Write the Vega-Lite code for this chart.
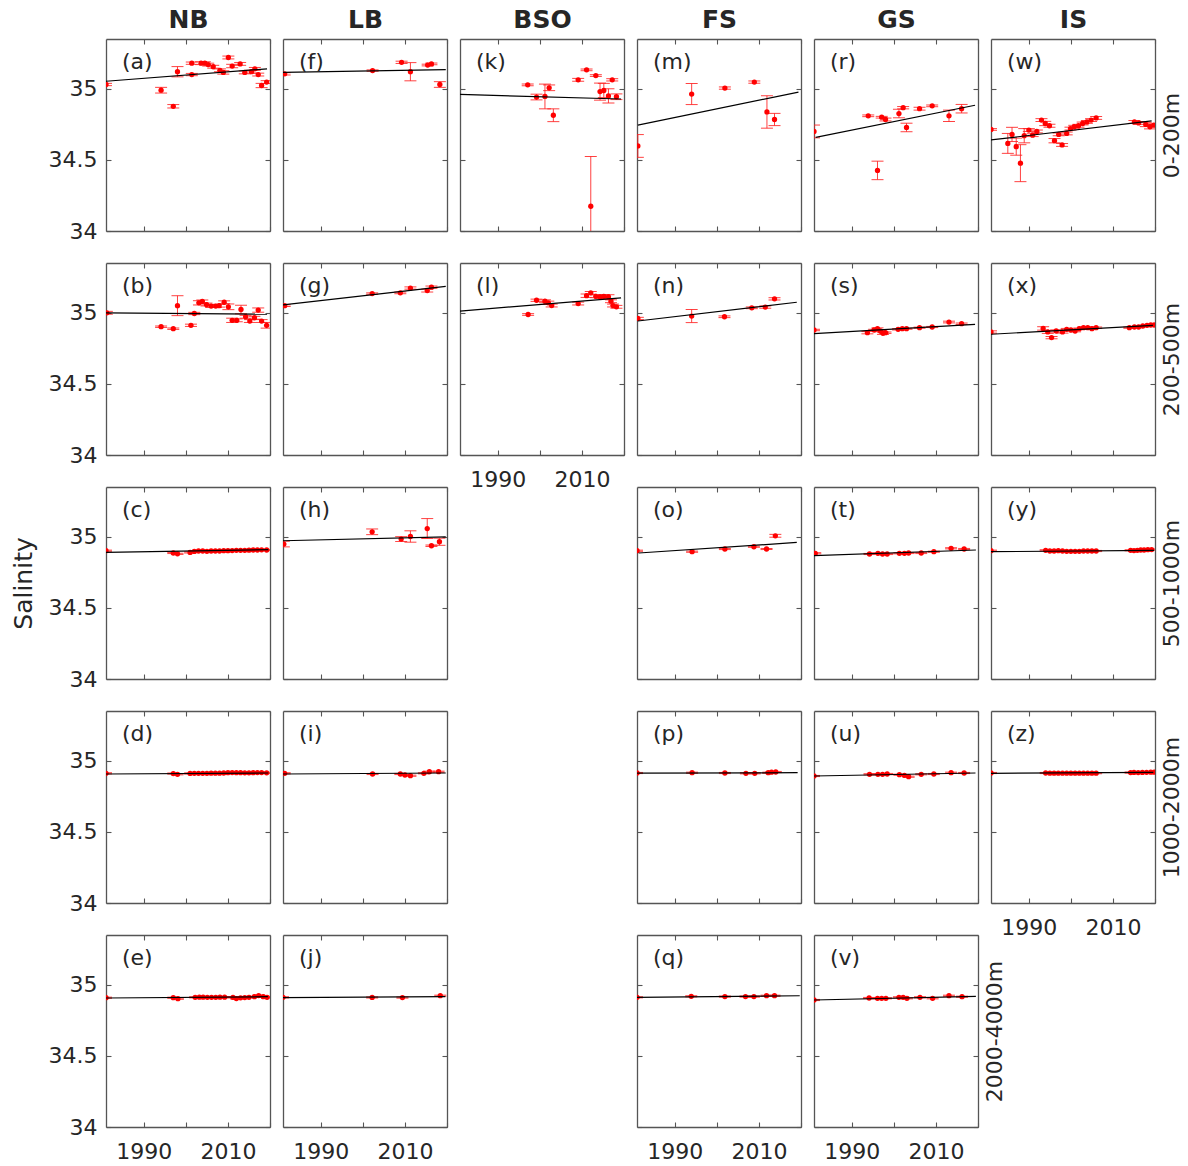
{
  "$schema": "https://vega.github.io/schema/vega-lite/v6.json",
  "padding": {"left": 11, "top": 7, "right": 2, "bottom": 2},
  "datasets": {
    "pts": [
      {"p":"a","year":1981,"s":35.03,"e":0.008},{"p":"a","year":1994.1,"s":34.99,"e":0.02},{"p":"a","year":1997,"s":34.877,"e":0.012},{"p":"a","year":1998,"s":35.12,"e":0.036},{"p":"a","year":2001.4,"s":35.1,"e":0.008},{"p":"a","year":2001.4,"s":35.18,"e":0.008},{"p":"a","year":2003.6,"s":35.18,"e":0.01},{"p":"a","year":2004.5,"s":35.18,"e":0.01},{"p":"a","year":2005.3,"s":35.17,"e":0.01},{"p":"a","year":2006.5,"s":35.155,"e":0.01},{"p":"a","year":2008.1,"s":35.13,"e":0.01},{"p":"a","year":2008.9,"s":35.115,"e":0.012},{"p":"a","year":2010.1,"s":35.22,"e":0.01},{"p":"a","year":2011,"s":35.16,"e":0.012},{"p":"a","year":2012.9,"s":35.175,"e":0.01},{"p":"a","year":2014,"s":35.115,"e":0.01},{"p":"a","year":2015.6,"s":35.12,"e":0.01},{"p":"a","year":2016.4,"s":35.14,"e":0.01},{"p":"a","year":2017.2,"s":35.1,"e":0.01},{"p":"a","year":2018,"s":35.023,"e":0.015},{"p":"a","year":2019.2,"s":35.047,"e":0.01},
      {"p":"b","year":1981.2,"s":35.0,"e":0.01},{"p":"b","year":1994.1,"s":34.902,"e":0.005},{"p":"b","year":1997,"s":34.888,"e":0.005},{"p":"b","year":1998,"s":35.05,"e":0.07},{"p":"b","year":2001.2,"s":34.912,"e":0.008},{"p":"b","year":2002,"s":34.995,"e":0.008},{"p":"b","year":2003.1,"s":35.07,"e":0.015},{"p":"b","year":2003.9,"s":35.08,"e":0.01},{"p":"b","year":2004.9,"s":35.058,"e":0.01},{"p":"b","year":2006,"s":35.047,"e":0.01},{"p":"b","year":2007.1,"s":35.047,"e":0.01},{"p":"b","year":2007.9,"s":35.05,"e":0.01},{"p":"b","year":2009.1,"s":35.074,"e":0.01},{"p":"b","year":2010.1,"s":35.042,"e":0.02},{"p":"b","year":2011,"s":34.947,"e":0.015},{"p":"b","year":2012.1,"s":34.947,"e":0.01},{"p":"b","year":2013.1,"s":35.023,"e":0.03},{"p":"b","year":2014.2,"s":34.972,"e":0.01},{"p":"b","year":2015.2,"s":34.942,"e":0.01},{"p":"b","year":2016.3,"s":34.965,"e":0.01},{"p":"b","year":2017.2,"s":35.019,"e":0.015},{"p":"b","year":2018,"s":34.942,"e":0.01},{"p":"b","year":2019.2,"s":34.912,"e":0.02},
      {"p":"c","year":1981,"s":34.902,"e":0.004},{"p":"c","year":1997,"s":34.886,"e":0.004},{"p":"c","year":1998,"s":34.88,"e":0.004},{"p":"c","year":2001,"s":34.89,"e":0.004},{"p":"c","year":2002,"s":34.897,"e":0.004},{"p":"c","year":2003,"s":34.9,"e":0.004},{"p":"c","year":2004,"s":34.9,"e":0.004},{"p":"c","year":2005,"s":34.898,"e":0.004},{"p":"c","year":2006,"s":34.9,"e":0.004},{"p":"c","year":2007,"s":34.9,"e":0.004},{"p":"c","year":2008,"s":34.9,"e":0.004},{"p":"c","year":2009,"s":34.902,"e":0.004},{"p":"c","year":2010,"s":34.902,"e":0.004},{"p":"c","year":2011,"s":34.903,"e":0.004},{"p":"c","year":2012,"s":34.905,"e":0.004},{"p":"c","year":2013,"s":34.905,"e":0.004},{"p":"c","year":2014,"s":34.905,"e":0.004},{"p":"c","year":2015,"s":34.906,"e":0.004},{"p":"c","year":2016,"s":34.907,"e":0.004},{"p":"c","year":2017,"s":34.907,"e":0.004},{"p":"c","year":2018,"s":34.908,"e":0.004},{"p":"c","year":2019.2,"s":34.907,"e":0.004},
      {"p":"d","year":1981,"s":34.912,"e":0.004},{"p":"d","year":1997,"s":34.91,"e":0.004},{"p":"d","year":1998,"s":34.905,"e":0.004},{"p":"d","year":2001,"s":34.911,"e":0.004},{"p":"d","year":2002,"s":34.912,"e":0.004},{"p":"d","year":2003,"s":34.912,"e":0.004},{"p":"d","year":2004,"s":34.912,"e":0.004},{"p":"d","year":2005,"s":34.912,"e":0.004},{"p":"d","year":2006,"s":34.913,"e":0.004},{"p":"d","year":2007,"s":34.913,"e":0.004},{"p":"d","year":2008,"s":34.913,"e":0.004},{"p":"d","year":2009,"s":34.914,"e":0.004},{"p":"d","year":2010,"s":34.916,"e":0.004},{"p":"d","year":2011,"s":34.917,"e":0.004},{"p":"d","year":2012,"s":34.916,"e":0.004},{"p":"d","year":2013,"s":34.916,"e":0.004},{"p":"d","year":2014,"s":34.915,"e":0.004},{"p":"d","year":2015,"s":34.915,"e":0.004},{"p":"d","year":2016,"s":34.916,"e":0.004},{"p":"d","year":2017,"s":34.917,"e":0.004},{"p":"d","year":2018,"s":34.917,"e":0.004},{"p":"d","year":2019.2,"s":34.915,"e":0.004},
      {"p":"e","year":1981,"s":34.909,"e":0.004},{"p":"e","year":1997,"s":34.909,"e":0.004},{"p":"e","year":1998.1,"s":34.902,"e":0.004},{"p":"e","year":2002.2,"s":34.912,"e":0.004},{"p":"e","year":2003.2,"s":34.913,"e":0.004},{"p":"e","year":2004.1,"s":34.913,"e":0.004},{"p":"e","year":2005.1,"s":34.912,"e":0.004},{"p":"e","year":2006.1,"s":34.912,"e":0.004},{"p":"e","year":2007.1,"s":34.912,"e":0.004},{"p":"e","year":2008.1,"s":34.913,"e":0.004},{"p":"e","year":2009.2,"s":34.913,"e":0.004},{"p":"e","year":2011.2,"s":34.912,"e":0.004},{"p":"e","year":2012,"s":34.903,"e":0.004},{"p":"e","year":2013,"s":34.908,"e":0.004},{"p":"e","year":2014,"s":34.91,"e":0.004},{"p":"e","year":2015,"s":34.912,"e":0.004},{"p":"e","year":2016.3,"s":34.916,"e":0.004},{"p":"e","year":2017.3,"s":34.924,"e":0.004},{"p":"e","year":2018.4,"s":34.916,"e":0.004},{"p":"e","year":2019.3,"s":34.912,"e":0.004},
      {"p":"f","year":1981.4,"s":35.105,"e":0.008},{"p":"f","year":2002.3,"s":35.128,"e":0.005},{"p":"f","year":2009.2,"s":35.186,"e":0.008},{"p":"f","year":2011.3,"s":35.12,"e":0.064},{"p":"f","year":2015.4,"s":35.167,"e":0.006},{"p":"f","year":2016.3,"s":35.175,"e":0.006},{"p":"f","year":2018.3,"s":35.03,"e":0.02},
      {"p":"g","year":1981.4,"s":35.05,"e":0.006},{"p":"g","year":2002.2,"s":35.135,"e":0.005},{"p":"g","year":2008.9,"s":35.14,"e":0.006},{"p":"g","year":2011.3,"s":35.174,"e":0.008},{"p":"g","year":2015.3,"s":35.156,"e":0.01},{"p":"g","year":2016.3,"s":35.18,"e":0.008},
      {"p":"h","year":1981.2,"s":34.949,"e":0.02},{"p":"h","year":2002.2,"s":35.035,"e":0.02},{"p":"h","year":2009.1,"s":34.984,"e":0.017},{"p":"h","year":2011.3,"s":35.002,"e":0.04},{"p":"h","year":2015.3,"s":35.058,"e":0.07},{"p":"h","year":2016.3,"s":34.937,"e":0.005},{"p":"h","year":2018.2,"s":34.965,"e":0.025},
      {"p":"i","year":1981.4,"s":34.912,"e":0.004},{"p":"i","year":2002.3,"s":34.907,"e":0.004},{"p":"i","year":2008.9,"s":34.907,"e":0.004},{"p":"i","year":2010,"s":34.9,"e":0.004},{"p":"i","year":2011.3,"s":34.895,"e":0.004},{"p":"i","year":2014.5,"s":34.912,"e":0.004},{"p":"i","year":2015.8,"s":34.923,"e":0.004},{"p":"i","year":2018,"s":34.923,"e":0.004},
      {"p":"j","year":1981,"s":34.912,"e":0.004},{"p":"j","year":2002.2,"s":34.911,"e":0.004},{"p":"j","year":2009.4,"s":34.91,"e":0.004},{"p":"j","year":2018.4,"s":34.923,"e":0.004},
      {"p":"k","year":1997.1,"s":35.028,"e":0.006},{"p":"k","year":1999.2,"s":34.942,"e":0.02},{"p":"k","year":2001.2,"s":34.946,"e":0.087},{"p":"k","year":2002.2,"s":35.007,"e":0.02},{"p":"k","year":2003.2,"s":34.814,"e":0.045},{"p":"k","year":2009.1,"s":35.063,"e":0.01},{"p":"k","year":2011.1,"s":35.133,"e":0.006},{"p":"k","year":2012.1,"s":34.174,"e":0.35},{"p":"k","year":2013.3,"s":35.093,"e":0.006},{"p":"k","year":2014.3,"s":34.98,"e":0.06},{"p":"k","year":2015.2,"s":34.988,"e":0.05},{"p":"k","year":2016.3,"s":34.95,"e":0.05},{"p":"k","year":2017.2,"s":35.063,"e":0.008},{"p":"k","year":2018.2,"s":34.944,"e":0.02},
      {"p":"l","year":1997.2,"s":34.988,"e":0.006},{"p":"l","year":1999.2,"s":35.088,"e":0.008},{"p":"l","year":2001.2,"s":35.081,"e":0.01},{"p":"l","year":2002,"s":35.07,"e":0.012},{"p":"l","year":2002.8,"s":35.051,"e":0.01},{"p":"l","year":2009.1,"s":35.065,"e":0.01},{"p":"l","year":2011.1,"s":35.12,"e":0.012},{"p":"l","year":2012.1,"s":35.14,"e":0.01},{"p":"l","year":2013.3,"s":35.116,"e":0.01},{"p":"l","year":2014.3,"s":35.112,"e":0.01},{"p":"l","year":2015.2,"s":35.116,"e":0.012},{"p":"l","year":2016.3,"s":35.112,"e":0.015},{"p":"l","year":2016.9,"s":35.081,"e":0.01},{"p":"l","year":2017.4,"s":35.051,"e":0.01},{"p":"l","year":2018.2,"s":35.042,"e":0.01},
      {"p":"m","year":1981.2,"s":34.598,"e":0.08},{"p":"m","year":1994,"s":34.963,"e":0.074},{"p":"m","year":2001.9,"s":35.005,"e":0.008},{"p":"m","year":2008.9,"s":35.047,"e":0.008},{"p":"m","year":2011.9,"s":34.837,"e":0.114},{"p":"m","year":2013.7,"s":34.784,"e":0.043},
      {"p":"n","year":1981.2,"s":34.96,"e":0.008},{"p":"n","year":1994,"s":34.977,"e":0.046},{"p":"n","year":2001.8,"s":34.972,"e":0.006},{"p":"n","year":2008.3,"s":35.035,"e":0.006},{"p":"n","year":2011.5,"s":35.04,"e":0.008},{"p":"n","year":2013.7,"s":35.098,"e":0.008},
      {"p":"o","year":1981,"s":34.902,"e":0.004},{"p":"o","year":1994.1,"s":34.895,"e":0.004},{"p":"o","year":2001.9,"s":34.914,"e":0.004},{"p":"o","year":2008.8,"s":34.93,"e":0.004},{"p":"o","year":2011.8,"s":34.914,"e":0.004},{"p":"o","year":2013.9,"s":35.007,"e":0.01},
      {"p":"p","year":1981,"s":34.914,"e":0.004},{"p":"p","year":1994.1,"s":34.916,"e":0.004},{"p":"p","year":2001.9,"s":34.914,"e":0.004},{"p":"p","year":2006.9,"s":34.912,"e":0.004},{"p":"p","year":2009,"s":34.912,"e":0.004},{"p":"p","year":2012.2,"s":34.916,"e":0.004},{"p":"p","year":2013,"s":34.92,"e":0.004},{"p":"p","year":2014,"s":34.921,"e":0.004},
      {"p":"q","year":1981,"s":34.912,"e":0.004},{"p":"q","year":1993.9,"s":34.919,"e":0.004},{"p":"q","year":2001.9,"s":34.917,"e":0.004},{"p":"q","year":2006.8,"s":34.917,"e":0.004},{"p":"q","year":2008.8,"s":34.917,"e":0.004},{"p":"q","year":2011.8,"s":34.923,"e":0.004},{"p":"q","year":2013.7,"s":34.923,"e":0.004},
      {"p":"r","year":1981,"s":34.7,"e":0.045},{"p":"r","year":1993.9,"s":34.81,"e":0.006},{"p":"r","year":1996.1,"s":34.426,"e":0.065},{"p":"r","year":1997.1,"s":34.8,"e":0.006},{"p":"r","year":1998,"s":34.784,"e":0.01},{"p":"r","year":2001.2,"s":34.826,"e":0.03},{"p":"r","year":2002.2,"s":34.867,"e":0.008},{"p":"r","year":2003,"s":34.728,"e":0.03},{"p":"r","year":2006.1,"s":34.86,"e":0.01},{"p":"r","year":2009.1,"s":34.88,"e":0.006},{"p":"r","year":2013.1,"s":34.81,"e":0.04},{"p":"r","year":2016.1,"s":34.86,"e":0.03},
      {"p":"s","year":1981,"s":34.879,"e":0.005},{"p":"s","year":1993.7,"s":34.86,"e":0.008},{"p":"s","year":1995.3,"s":34.879,"e":0.005},{"p":"s","year":1996.1,"s":34.888,"e":0.006},{"p":"s","year":1996.8,"s":34.872,"e":0.005},{"p":"s","year":1997.4,"s":34.856,"e":0.008},{"p":"s","year":1998,"s":34.86,"e":0.005},{"p":"s","year":2001,"s":34.884,"e":0.005},{"p":"s","year":2002,"s":34.888,"e":0.004},{"p":"s","year":2003,"s":34.888,"e":0.004},{"p":"s","year":2006.1,"s":34.895,"e":0.004},{"p":"s","year":2009.1,"s":34.9,"e":0.004},{"p":"s","year":2013.1,"s":34.935,"e":0.006},{"p":"s","year":2016.1,"s":34.923,"e":0.005},
      {"p":"t","year":1981.3,"s":34.884,"e":0.004},{"p":"t","year":1994.2,"s":34.879,"e":0.004},{"p":"t","year":1996.2,"s":34.884,"e":0.004},{"p":"t","year":1997.3,"s":34.879,"e":0.004},{"p":"t","year":1998.4,"s":34.879,"e":0.004},{"p":"t","year":2001.3,"s":34.884,"e":0.004},{"p":"t","year":2002.5,"s":34.884,"e":0.004},{"p":"t","year":2003.5,"s":34.886,"e":0.004},{"p":"t","year":2006.5,"s":34.886,"e":0.004},{"p":"t","year":2009.5,"s":34.895,"e":0.004},{"p":"t","year":2013.6,"s":34.919,"e":0.004},{"p":"t","year":2016.7,"s":34.914,"e":0.004},
      {"p":"u","year":1981,"s":34.893,"e":0.004},{"p":"u","year":1994.2,"s":34.905,"e":0.004},{"p":"u","year":1996.2,"s":34.905,"e":0.004},{"p":"u","year":1997.3,"s":34.905,"e":0.004},{"p":"u","year":1998.4,"s":34.907,"e":0.004},{"p":"u","year":2001.3,"s":34.902,"e":0.004},{"p":"u","year":2002.5,"s":34.898,"e":0.004},{"p":"u","year":2003.5,"s":34.888,"e":0.004},{"p":"u","year":2006.5,"s":34.905,"e":0.004},{"p":"u","year":2009.5,"s":34.907,"e":0.004},{"p":"u","year":2013.6,"s":34.916,"e":0.004},{"p":"u","year":2016.7,"s":34.914,"e":0.004},
      {"p":"v","year":1981,"s":34.893,"e":0.004},{"p":"v","year":1994.1,"s":34.907,"e":0.004},{"p":"v","year":1996.1,"s":34.905,"e":0.004},{"p":"v","year":1997.1,"s":34.905,"e":0.004},{"p":"v","year":1998.1,"s":34.905,"e":0.004},{"p":"v","year":2001.2,"s":34.912,"e":0.004},{"p":"v","year":2002.2,"s":34.912,"e":0.004},{"p":"v","year":2003.1,"s":34.905,"e":0.004},{"p":"v","year":2006.2,"s":34.912,"e":0.004},{"p":"v","year":2009.2,"s":34.905,"e":0.004},{"p":"v","year":2013.1,"s":34.923,"e":0.004},{"p":"v","year":2016.2,"s":34.916,"e":0.004},
      {"p":"w","year":1981,"s":34.714,"e":0.006},{"p":"w","year":1985,"s":34.616,"e":0.07},{"p":"w","year":1986,"s":34.679,"e":0.05},{"p":"w","year":1987,"s":34.593,"e":0.06},{"p":"w","year":1988,"s":34.477,"e":0.13},{"p":"w","year":1988.9,"s":34.67,"e":0.05},{"p":"w","year":1990,"s":34.71,"e":0.01},{"p":"w","year":1990.9,"s":34.674,"e":0.01},{"p":"w","year":1991.9,"s":34.7,"e":0.01},{"p":"w","year":1993,"s":34.78,"e":0.01},{"p":"w","year":1993.9,"s":34.756,"e":0.015},{"p":"w","year":1994.9,"s":34.74,"e":0.01},{"p":"w","year":1996.1,"s":34.635,"e":0.015},{"p":"w","year":1997.1,"s":34.679,"e":0.01},{"p":"w","year":1997.9,"s":34.605,"e":0.01},{"p":"w","year":1999,"s":34.686,"e":0.01},{"p":"w","year":1999.9,"s":34.72,"e":0.01},{"p":"w","year":2000.8,"s":34.733,"e":0.01},{"p":"w","year":2001.8,"s":34.74,"e":0.01},{"p":"w","year":2002.8,"s":34.756,"e":0.01},{"p":"w","year":2003.8,"s":34.767,"e":0.01},{"p":"w","year":2004.8,"s":34.78,"e":0.01},{"p":"w","year":2006,"s":34.795,"e":0.01},{"p":"w","year":2015.1,"s":34.767,"e":0.01},{"p":"w","year":2016.1,"s":34.76,"e":0.01},{"p":"w","year":2017.8,"s":34.749,"e":0.015},{"p":"w","year":2018.8,"s":34.733,"e":0.015},{"p":"w","year":2019.7,"s":34.744,"e":0.01},
      {"p":"x","year":1981,"s":34.865,"e":0.008},{"p":"x","year":1993.4,"s":34.89,"e":0.012},{"p":"x","year":1994.5,"s":34.865,"e":0.01},{"p":"x","year":1995.4,"s":34.826,"e":0.008},{"p":"x","year":1996.5,"s":34.872,"e":0.008},{"p":"x","year":1998,"s":34.865,"e":0.008},{"p":"x","year":1999,"s":34.884,"e":0.006},{"p":"x","year":2000,"s":34.879,"e":0.006},{"p":"x","year":2001,"s":34.872,"e":0.006},{"p":"x","year":2002,"s":34.888,"e":0.005},{"p":"x","year":2003,"s":34.895,"e":0.005},{"p":"x","year":2004,"s":34.895,"e":0.005},{"p":"x","year":2005,"s":34.888,"e":0.005},{"p":"x","year":2006,"s":34.895,"e":0.005},{"p":"x","year":2013.9,"s":34.895,"e":0.004},{"p":"x","year":2015.1,"s":34.9,"e":0.004},{"p":"x","year":2016.1,"s":34.9,"e":0.004},{"p":"x","year":2017.1,"s":34.907,"e":0.004},{"p":"x","year":2018.1,"s":34.912,"e":0.004},{"p":"x","year":2019,"s":34.914,"e":0.004},{"p":"x","year":2019.8,"s":34.914,"e":0.004},
      {"p":"y","year":1981,"s":34.902,"e":0.004},{"p":"y","year":1994,"s":34.905,"e":0.004},{"p":"y","year":1995,"s":34.9,"e":0.004},{"p":"y","year":1996,"s":34.9,"e":0.004},{"p":"y","year":1997,"s":34.902,"e":0.004},{"p":"y","year":1998,"s":34.9,"e":0.004},{"p":"y","year":1999,"s":34.898,"e":0.004},{"p":"y","year":2000,"s":34.898,"e":0.004},{"p":"y","year":2001,"s":34.898,"e":0.004},{"p":"y","year":2002,"s":34.898,"e":0.004},{"p":"y","year":2003,"s":34.9,"e":0.004},{"p":"y","year":2004,"s":34.9,"e":0.004},{"p":"y","year":2005,"s":34.9,"e":0.004},{"p":"y","year":2006,"s":34.9,"e":0.004},{"p":"y","year":2014.2,"s":34.905,"e":0.004},{"p":"y","year":2015,"s":34.903,"e":0.004},{"p":"y","year":2015.8,"s":34.905,"e":0.004},{"p":"y","year":2016.6,"s":34.907,"e":0.004},{"p":"y","year":2017.4,"s":34.907,"e":0.004},{"p":"y","year":2018.3,"s":34.909,"e":0.004},{"p":"y","year":2019.2,"s":34.91,"e":0.004},
      {"p":"z","year":1981,"s":34.914,"e":0.004},{"p":"z","year":1994,"s":34.914,"e":0.004},{"p":"z","year":1995,"s":34.913,"e":0.004},{"p":"z","year":1996,"s":34.913,"e":0.004},{"p":"z","year":1997,"s":34.913,"e":0.004},{"p":"z","year":1998,"s":34.913,"e":0.004},{"p":"z","year":1999,"s":34.913,"e":0.004},{"p":"z","year":2000,"s":34.913,"e":0.004},{"p":"z","year":2001,"s":34.913,"e":0.004},{"p":"z","year":2002,"s":34.913,"e":0.004},{"p":"z","year":2003,"s":34.913,"e":0.004},{"p":"z","year":2004,"s":34.913,"e":0.004},{"p":"z","year":2005,"s":34.913,"e":0.004},{"p":"z","year":2006,"s":34.913,"e":0.004},{"p":"z","year":2014.2,"s":34.917,"e":0.004},{"p":"z","year":2015,"s":34.918,"e":0.004},{"p":"z","year":2016,"s":34.917,"e":0.004},{"p":"z","year":2017,"s":34.918,"e":0.004},{"p":"z","year":2018,"s":34.919,"e":0.004},{"p":"z","year":2019,"s":34.92,"e":0.004},{"p":"z","year":2019.8,"s":34.92,"e":0.004}
    ],
    "trend": [
      {"p":"a","year":1981,"s":35.053},{"p":"a","year":2019.3,"s":35.14},
      {"p":"b","year":1981,"s":35.0},{"p":"b","year":2019.3,"s":34.99},
      {"p":"c","year":1981,"s":34.891},{"p":"c","year":2019.6,"s":34.909},
      {"p":"d","year":1981,"s":34.907},{"p":"d","year":2019.6,"s":34.914},
      {"p":"e","year":1981,"s":34.907},{"p":"e","year":2019.5,"s":34.916},
      {"p":"f","year":1981,"s":35.116},{"p":"f","year":2019.7,"s":35.135},
      {"p":"g","year":1981,"s":35.056},{"p":"g","year":2019.7,"s":35.186},
      {"p":"h","year":1981,"s":34.972},{"p":"h","year":2019.7,"s":35.0},
      {"p":"i","year":1981,"s":34.907},{"p":"i","year":2019.7,"s":34.914},
      {"p":"j","year":1981,"s":34.91},{"p":"j","year":2019.6,"s":34.917},
      {"p":"k","year":1981,"s":34.96},{"p":"k","year":2019.3,"s":34.928},
      {"p":"l","year":1981,"s":35.012},{"p":"l","year":2019.3,"s":35.105},
      {"p":"m","year":1981.2,"s":34.744},{"p":"m","year":2019.4,"s":34.977},
      {"p":"n","year":1981.2,"s":34.942},{"p":"n","year":2019,"s":35.074},
      {"p":"o","year":1981.4,"s":34.886},{"p":"o","year":2019,"s":34.96},
      {"p":"p","year":1981,"s":34.913},{"p":"p","year":2019.2,"s":34.916},
      {"p":"q","year":1981,"s":34.912},{"p":"q","year":2019.7,"s":34.923},
      {"p":"r","year":1981.4,"s":34.658},{"p":"r","year":2019.3,"s":34.884},
      {"p":"s","year":1981,"s":34.853},{"p":"s","year":2019.3,"s":34.919},
      {"p":"t","year":1981,"s":34.867},{"p":"t","year":2019.5,"s":34.907},
      {"p":"u","year":1981,"s":34.893},{"p":"u","year":2019.4,"s":34.914},
      {"p":"v","year":1981,"s":34.893},{"p":"v","year":2019.5,"s":34.919},
      {"p":"w","year":1981,"s":34.64},{"p":"w","year":2019.2,"s":34.774},
      {"p":"x","year":1981,"s":34.849},{"p":"x","year":2019.5,"s":34.912},
      {"p":"y","year":1981,"s":34.895},{"p":"y","year":2019.8,"s":34.905},
      {"p":"z","year":1981,"s":34.912},{"p":"z","year":2019.6,"s":34.918}
    ]
  },
  "columns": 6,
  "bounds": "flush",
  "spacing": {"row": 32, "column": 13},
  "concat": [
    {"width":164,"height":192,"resolve":{"axis":{"x":"independent","y":"independent"}},"layer":[
      {"data":{"name":"pts"},"transform":[{"filter":"datum.p=='a'"}],"mark":{"type":"errorbar","color":"#ff2020","opacity":0.85,"ticks":{"size":12},"clip":true},"encoding":{"x":{"field":"year","type":"quantitative","scale":{"domain":[1981,2020],"nice":false,"zero":false},"axis":null},"y":{"field":"s","type":"quantitative","scale":{"domain":[34,35.35],"nice":false,"zero":false},"axis":null},"yError":{"field":"e"}}},
      {"data":{"name":"pts"},"transform":[{"filter":"datum.p=='a'"}],"mark":{"type":"circle","color":"red","size":28,"opacity":1,"clip":true},"encoding":{"x":{"field":"year","type":"quantitative","axis":{"orient":"bottom","labels":false,"title":null}},"y":{"field":"s","type":"quantitative","axis":{"orient":"left","labels":true,"title":null}}}},
      {"data":{"name":"trend"},"transform":[{"filter":"datum.p=='a'"}],"mark":{"type":"line","color":"black","strokeWidth":1.2,"clip":true},"encoding":{"x":{"field":"year","type":"quantitative","axis":{"orient":"top","labels":false,"title":"NB"}},"y":{"field":"s","type":"quantitative","axis":{"orient":"right","labels":false,"title":null}}}},
      {"data":{"values":[{"t":"(a)"}]},"mark":{"type":"text","align":"left","fontSize":22,"color":"#262626"},"encoding":{"x":{"datum":1984.8,"type":"quantitative","axis":null},"y":{"datum":35.19,"type":"quantitative","axis":null},"text":{"field":"t"}}}]},
    {"width":164,"height":192,"resolve":{"axis":{"x":"independent","y":"independent"}},"layer":[
      {"data":{"name":"pts"},"transform":[{"filter":"datum.p=='f'"}],"mark":{"type":"errorbar","color":"#ff2020","opacity":0.85,"ticks":{"size":12},"clip":true},"encoding":{"x":{"field":"year","type":"quantitative","scale":{"domain":[1981,2020],"nice":false,"zero":false},"axis":null},"y":{"field":"s","type":"quantitative","scale":{"domain":[34,35.35],"nice":false,"zero":false},"axis":null},"yError":{"field":"e"}}},
      {"data":{"name":"pts"},"transform":[{"filter":"datum.p=='f'"}],"mark":{"type":"circle","color":"red","size":28,"opacity":1,"clip":true},"encoding":{"x":{"field":"year","type":"quantitative","axis":{"orient":"bottom","labels":false,"title":null}},"y":{"field":"s","type":"quantitative","axis":{"orient":"left","labels":false,"title":null}}}},
      {"data":{"name":"trend"},"transform":[{"filter":"datum.p=='f'"}],"mark":{"type":"line","color":"black","strokeWidth":1.2,"clip":true},"encoding":{"x":{"field":"year","type":"quantitative","axis":{"orient":"top","labels":false,"title":"LB"}},"y":{"field":"s","type":"quantitative","axis":{"orient":"right","labels":false,"title":null}}}},
      {"data":{"values":[{"t":"(f)"}]},"mark":{"type":"text","align":"left","fontSize":22,"color":"#262626"},"encoding":{"x":{"datum":1984.8,"type":"quantitative","axis":null},"y":{"datum":35.19,"type":"quantitative","axis":null},"text":{"field":"t"}}}]},
    {"width":164,"height":192,"resolve":{"axis":{"x":"independent","y":"independent"}},"layer":[
      {"data":{"name":"pts"},"transform":[{"filter":"datum.p=='k'"}],"mark":{"type":"errorbar","color":"#ff2020","opacity":0.85,"ticks":{"size":12},"clip":true},"encoding":{"x":{"field":"year","type":"quantitative","scale":{"domain":[1981,2020],"nice":false,"zero":false},"axis":null},"y":{"field":"s","type":"quantitative","scale":{"domain":[34,35.35],"nice":false,"zero":false},"axis":null},"yError":{"field":"e"}}},
      {"data":{"name":"pts"},"transform":[{"filter":"datum.p=='k'"}],"mark":{"type":"circle","color":"red","size":28,"opacity":1,"clip":true},"encoding":{"x":{"field":"year","type":"quantitative","axis":{"orient":"bottom","labels":false,"title":null}},"y":{"field":"s","type":"quantitative","axis":{"orient":"left","labels":false,"title":null}}}},
      {"data":{"name":"trend"},"transform":[{"filter":"datum.p=='k'"}],"mark":{"type":"line","color":"black","strokeWidth":1.2,"clip":true},"encoding":{"x":{"field":"year","type":"quantitative","axis":{"orient":"top","labels":false,"title":"BSO"}},"y":{"field":"s","type":"quantitative","axis":{"orient":"right","labels":false,"title":null}}}},
      {"data":{"values":[{"t":"(k)"}]},"mark":{"type":"text","align":"left","fontSize":22,"color":"#262626"},"encoding":{"x":{"datum":1984.8,"type":"quantitative","axis":null},"y":{"datum":35.19,"type":"quantitative","axis":null},"text":{"field":"t"}}}]},
    {"width":164,"height":192,"resolve":{"axis":{"x":"independent","y":"independent"}},"layer":[
      {"data":{"name":"pts"},"transform":[{"filter":"datum.p=='m'"}],"mark":{"type":"errorbar","color":"#ff2020","opacity":0.85,"ticks":{"size":12},"clip":true},"encoding":{"x":{"field":"year","type":"quantitative","scale":{"domain":[1981,2020],"nice":false,"zero":false},"axis":null},"y":{"field":"s","type":"quantitative","scale":{"domain":[34,35.35],"nice":false,"zero":false},"axis":null},"yError":{"field":"e"}}},
      {"data":{"name":"pts"},"transform":[{"filter":"datum.p=='m'"}],"mark":{"type":"circle","color":"red","size":28,"opacity":1,"clip":true},"encoding":{"x":{"field":"year","type":"quantitative","axis":{"orient":"bottom","labels":false,"title":null}},"y":{"field":"s","type":"quantitative","axis":{"orient":"left","labels":false,"title":null}}}},
      {"data":{"name":"trend"},"transform":[{"filter":"datum.p=='m'"}],"mark":{"type":"line","color":"black","strokeWidth":1.2,"clip":true},"encoding":{"x":{"field":"year","type":"quantitative","axis":{"orient":"top","labels":false,"title":"FS"}},"y":{"field":"s","type":"quantitative","axis":{"orient":"right","labels":false,"title":null}}}},
      {"data":{"values":[{"t":"(m)"}]},"mark":{"type":"text","align":"left","fontSize":22,"color":"#262626"},"encoding":{"x":{"datum":1984.8,"type":"quantitative","axis":null},"y":{"datum":35.19,"type":"quantitative","axis":null},"text":{"field":"t"}}}]},
    {"width":164,"height":192,"resolve":{"axis":{"x":"independent","y":"independent"}},"layer":[
      {"data":{"name":"pts"},"transform":[{"filter":"datum.p=='r'"}],"mark":{"type":"errorbar","color":"#ff2020","opacity":0.85,"ticks":{"size":12},"clip":true},"encoding":{"x":{"field":"year","type":"quantitative","scale":{"domain":[1981,2020],"nice":false,"zero":false},"axis":null},"y":{"field":"s","type":"quantitative","scale":{"domain":[34,35.35],"nice":false,"zero":false},"axis":null},"yError":{"field":"e"}}},
      {"data":{"name":"pts"},"transform":[{"filter":"datum.p=='r'"}],"mark":{"type":"circle","color":"red","size":28,"opacity":1,"clip":true},"encoding":{"x":{"field":"year","type":"quantitative","axis":{"orient":"bottom","labels":false,"title":null}},"y":{"field":"s","type":"quantitative","axis":{"orient":"left","labels":false,"title":null}}}},
      {"data":{"name":"trend"},"transform":[{"filter":"datum.p=='r'"}],"mark":{"type":"line","color":"black","strokeWidth":1.2,"clip":true},"encoding":{"x":{"field":"year","type":"quantitative","axis":{"orient":"top","labels":false,"title":"GS"}},"y":{"field":"s","type":"quantitative","axis":{"orient":"right","labels":false,"title":null}}}},
      {"data":{"values":[{"t":"(r)"}]},"mark":{"type":"text","align":"left","fontSize":22,"color":"#262626"},"encoding":{"x":{"datum":1984.8,"type":"quantitative","axis":null},"y":{"datum":35.19,"type":"quantitative","axis":null},"text":{"field":"t"}}}]},
    {"width":164,"height":192,"resolve":{"axis":{"x":"independent","y":"independent"}},"layer":[
      {"data":{"name":"pts"},"transform":[{"filter":"datum.p=='w'"}],"mark":{"type":"errorbar","color":"#ff2020","opacity":0.85,"ticks":{"size":12},"clip":true},"encoding":{"x":{"field":"year","type":"quantitative","scale":{"domain":[1981,2020],"nice":false,"zero":false},"axis":null},"y":{"field":"s","type":"quantitative","scale":{"domain":[34,35.35],"nice":false,"zero":false},"axis":null},"yError":{"field":"e"}}},
      {"data":{"name":"pts"},"transform":[{"filter":"datum.p=='w'"}],"mark":{"type":"circle","color":"red","size":28,"opacity":1,"clip":true},"encoding":{"x":{"field":"year","type":"quantitative","axis":{"orient":"bottom","labels":false,"title":null}},"y":{"field":"s","type":"quantitative","axis":{"orient":"left","labels":false,"title":null}}}},
      {"data":{"name":"trend"},"transform":[{"filter":"datum.p=='w'"}],"mark":{"type":"line","color":"black","strokeWidth":1.2,"clip":true},"encoding":{"x":{"field":"year","type":"quantitative","axis":{"orient":"top","labels":false,"title":"IS"}},"y":{"field":"s","type":"quantitative","axis":{"orient":"right","labels":false,"title":"0-200m"}}}},
      {"data":{"values":[{"t":"(w)"}]},"mark":{"type":"text","align":"left","fontSize":22,"color":"#262626"},"encoding":{"x":{"datum":1984.8,"type":"quantitative","axis":null},"y":{"datum":35.19,"type":"quantitative","axis":null},"text":{"field":"t"}}}]},

    {"width":164,"height":192,"resolve":{"axis":{"x":"independent","y":"independent"}},"layer":[
      {"data":{"name":"pts"},"transform":[{"filter":"datum.p=='b'"}],"mark":{"type":"errorbar","color":"#ff2020","opacity":0.85,"ticks":{"size":12},"clip":true},"encoding":{"x":{"field":"year","type":"quantitative","scale":{"domain":[1981,2020],"nice":false,"zero":false},"axis":null},"y":{"field":"s","type":"quantitative","scale":{"domain":[34,35.35],"nice":false,"zero":false},"axis":null},"yError":{"field":"e"}}},
      {"data":{"name":"pts"},"transform":[{"filter":"datum.p=='b'"}],"mark":{"type":"circle","color":"red","size":28,"opacity":1,"clip":true},"encoding":{"x":{"field":"year","type":"quantitative","axis":{"orient":"bottom","labels":false,"title":null}},"y":{"field":"s","type":"quantitative","axis":{"orient":"left","labels":true,"title":null}}}},
      {"data":{"name":"trend"},"transform":[{"filter":"datum.p=='b'"}],"mark":{"type":"line","color":"black","strokeWidth":1.2,"clip":true},"encoding":{"x":{"field":"year","type":"quantitative","axis":{"orient":"top","labels":false,"title":null}},"y":{"field":"s","type":"quantitative","axis":{"orient":"right","labels":false,"title":null}}}},
      {"data":{"values":[{"t":"(b)"}]},"mark":{"type":"text","align":"left","fontSize":22,"color":"#262626"},"encoding":{"x":{"datum":1984.8,"type":"quantitative","axis":null},"y":{"datum":35.19,"type":"quantitative","axis":null},"text":{"field":"t"}}}]},
    {"width":164,"height":192,"resolve":{"axis":{"x":"independent","y":"independent"}},"layer":[
      {"data":{"name":"pts"},"transform":[{"filter":"datum.p=='g'"}],"mark":{"type":"errorbar","color":"#ff2020","opacity":0.85,"ticks":{"size":12},"clip":true},"encoding":{"x":{"field":"year","type":"quantitative","scale":{"domain":[1981,2020],"nice":false,"zero":false},"axis":null},"y":{"field":"s","type":"quantitative","scale":{"domain":[34,35.35],"nice":false,"zero":false},"axis":null},"yError":{"field":"e"}}},
      {"data":{"name":"pts"},"transform":[{"filter":"datum.p=='g'"}],"mark":{"type":"circle","color":"red","size":28,"opacity":1,"clip":true},"encoding":{"x":{"field":"year","type":"quantitative","axis":{"orient":"bottom","labels":false,"title":null}},"y":{"field":"s","type":"quantitative","axis":{"orient":"left","labels":false,"title":null}}}},
      {"data":{"name":"trend"},"transform":[{"filter":"datum.p=='g'"}],"mark":{"type":"line","color":"black","strokeWidth":1.2,"clip":true},"encoding":{"x":{"field":"year","type":"quantitative","axis":{"orient":"top","labels":false,"title":null}},"y":{"field":"s","type":"quantitative","axis":{"orient":"right","labels":false,"title":null}}}},
      {"data":{"values":[{"t":"(g)"}]},"mark":{"type":"text","align":"left","fontSize":22,"color":"#262626"},"encoding":{"x":{"datum":1984.8,"type":"quantitative","axis":null},"y":{"datum":35.19,"type":"quantitative","axis":null},"text":{"field":"t"}}}]},
    {"width":164,"height":192,"resolve":{"axis":{"x":"independent","y":"independent"}},"layer":[
      {"data":{"name":"pts"},"transform":[{"filter":"datum.p=='l'"}],"mark":{"type":"errorbar","color":"#ff2020","opacity":0.85,"ticks":{"size":12},"clip":true},"encoding":{"x":{"field":"year","type":"quantitative","scale":{"domain":[1981,2020],"nice":false,"zero":false},"axis":null},"y":{"field":"s","type":"quantitative","scale":{"domain":[34,35.35],"nice":false,"zero":false},"axis":null},"yError":{"field":"e"}}},
      {"data":{"name":"pts"},"transform":[{"filter":"datum.p=='l'"}],"mark":{"type":"circle","color":"red","size":28,"opacity":1,"clip":true},"encoding":{"x":{"field":"year","type":"quantitative","axis":{"orient":"bottom","labels":true,"title":null}},"y":{"field":"s","type":"quantitative","axis":{"orient":"left","labels":false,"title":null}}}},
      {"data":{"name":"trend"},"transform":[{"filter":"datum.p=='l'"}],"mark":{"type":"line","color":"black","strokeWidth":1.2,"clip":true},"encoding":{"x":{"field":"year","type":"quantitative","axis":{"orient":"top","labels":false,"title":null}},"y":{"field":"s","type":"quantitative","axis":{"orient":"right","labels":false,"title":null}}}},
      {"data":{"values":[{"t":"(l)"}]},"mark":{"type":"text","align":"left","fontSize":22,"color":"#262626"},"encoding":{"x":{"datum":1984.8,"type":"quantitative","axis":null},"y":{"datum":35.19,"type":"quantitative","axis":null},"text":{"field":"t"}}}]},
    {"width":164,"height":192,"resolve":{"axis":{"x":"independent","y":"independent"}},"layer":[
      {"data":{"name":"pts"},"transform":[{"filter":"datum.p=='n'"}],"mark":{"type":"errorbar","color":"#ff2020","opacity":0.85,"ticks":{"size":12},"clip":true},"encoding":{"x":{"field":"year","type":"quantitative","scale":{"domain":[1981,2020],"nice":false,"zero":false},"axis":null},"y":{"field":"s","type":"quantitative","scale":{"domain":[34,35.35],"nice":false,"zero":false},"axis":null},"yError":{"field":"e"}}},
      {"data":{"name":"pts"},"transform":[{"filter":"datum.p=='n'"}],"mark":{"type":"circle","color":"red","size":28,"opacity":1,"clip":true},"encoding":{"x":{"field":"year","type":"quantitative","axis":{"orient":"bottom","labels":false,"title":null}},"y":{"field":"s","type":"quantitative","axis":{"orient":"left","labels":false,"title":null}}}},
      {"data":{"name":"trend"},"transform":[{"filter":"datum.p=='n'"}],"mark":{"type":"line","color":"black","strokeWidth":1.2,"clip":true},"encoding":{"x":{"field":"year","type":"quantitative","axis":{"orient":"top","labels":false,"title":null}},"y":{"field":"s","type":"quantitative","axis":{"orient":"right","labels":false,"title":null}}}},
      {"data":{"values":[{"t":"(n)"}]},"mark":{"type":"text","align":"left","fontSize":22,"color":"#262626"},"encoding":{"x":{"datum":1984.8,"type":"quantitative","axis":null},"y":{"datum":35.19,"type":"quantitative","axis":null},"text":{"field":"t"}}}]},
    {"width":164,"height":192,"resolve":{"axis":{"x":"independent","y":"independent"}},"layer":[
      {"data":{"name":"pts"},"transform":[{"filter":"datum.p=='s'"}],"mark":{"type":"errorbar","color":"#ff2020","opacity":0.85,"ticks":{"size":12},"clip":true},"encoding":{"x":{"field":"year","type":"quantitative","scale":{"domain":[1981,2020],"nice":false,"zero":false},"axis":null},"y":{"field":"s","type":"quantitative","scale":{"domain":[34,35.35],"nice":false,"zero":false},"axis":null},"yError":{"field":"e"}}},
      {"data":{"name":"pts"},"transform":[{"filter":"datum.p=='s'"}],"mark":{"type":"circle","color":"red","size":28,"opacity":1,"clip":true},"encoding":{"x":{"field":"year","type":"quantitative","axis":{"orient":"bottom","labels":false,"title":null}},"y":{"field":"s","type":"quantitative","axis":{"orient":"left","labels":false,"title":null}}}},
      {"data":{"name":"trend"},"transform":[{"filter":"datum.p=='s'"}],"mark":{"type":"line","color":"black","strokeWidth":1.2,"clip":true},"encoding":{"x":{"field":"year","type":"quantitative","axis":{"orient":"top","labels":false,"title":null}},"y":{"field":"s","type":"quantitative","axis":{"orient":"right","labels":false,"title":null}}}},
      {"data":{"values":[{"t":"(s)"}]},"mark":{"type":"text","align":"left","fontSize":22,"color":"#262626"},"encoding":{"x":{"datum":1984.8,"type":"quantitative","axis":null},"y":{"datum":35.19,"type":"quantitative","axis":null},"text":{"field":"t"}}}]},
    {"width":164,"height":192,"resolve":{"axis":{"x":"independent","y":"independent"}},"layer":[
      {"data":{"name":"pts"},"transform":[{"filter":"datum.p=='x'"}],"mark":{"type":"errorbar","color":"#ff2020","opacity":0.85,"ticks":{"size":12},"clip":true},"encoding":{"x":{"field":"year","type":"quantitative","scale":{"domain":[1981,2020],"nice":false,"zero":false},"axis":null},"y":{"field":"s","type":"quantitative","scale":{"domain":[34,35.35],"nice":false,"zero":false},"axis":null},"yError":{"field":"e"}}},
      {"data":{"name":"pts"},"transform":[{"filter":"datum.p=='x'"}],"mark":{"type":"circle","color":"red","size":28,"opacity":1,"clip":true},"encoding":{"x":{"field":"year","type":"quantitative","axis":{"orient":"bottom","labels":false,"title":null}},"y":{"field":"s","type":"quantitative","axis":{"orient":"left","labels":false,"title":null}}}},
      {"data":{"name":"trend"},"transform":[{"filter":"datum.p=='x'"}],"mark":{"type":"line","color":"black","strokeWidth":1.2,"clip":true},"encoding":{"x":{"field":"year","type":"quantitative","axis":{"orient":"top","labels":false,"title":null}},"y":{"field":"s","type":"quantitative","axis":{"orient":"right","labels":false,"title":"200-500m"}}}},
      {"data":{"values":[{"t":"(x)"}]},"mark":{"type":"text","align":"left","fontSize":22,"color":"#262626"},"encoding":{"x":{"datum":1984.8,"type":"quantitative","axis":null},"y":{"datum":35.19,"type":"quantitative","axis":null},"text":{"field":"t"}}}]},

    {"width":164,"height":192,"resolve":{"axis":{"x":"independent","y":"independent"}},"layer":[
      {"data":{"name":"pts"},"transform":[{"filter":"datum.p=='c'"}],"mark":{"type":"errorbar","color":"#ff2020","opacity":0.85,"ticks":{"size":12},"clip":true},"encoding":{"x":{"field":"year","type":"quantitative","scale":{"domain":[1981,2020],"nice":false,"zero":false},"axis":null},"y":{"field":"s","type":"quantitative","scale":{"domain":[34,35.35],"nice":false,"zero":false},"axis":null},"yError":{"field":"e"}}},
      {"data":{"name":"pts"},"transform":[{"filter":"datum.p=='c'"}],"mark":{"type":"circle","color":"red","size":28,"opacity":1,"clip":true},"encoding":{"x":{"field":"year","type":"quantitative","axis":{"orient":"bottom","labels":false,"title":null}},"y":{"field":"s","type":"quantitative","axis":{"orient":"left","labels":true,"title":"Salinity"}}}},
      {"data":{"name":"trend"},"transform":[{"filter":"datum.p=='c'"}],"mark":{"type":"line","color":"black","strokeWidth":1.2,"clip":true},"encoding":{"x":{"field":"year","type":"quantitative","axis":{"orient":"top","labels":false,"title":null}},"y":{"field":"s","type":"quantitative","axis":{"orient":"right","labels":false,"title":null}}}},
      {"data":{"values":[{"t":"(c)"}]},"mark":{"type":"text","align":"left","fontSize":22,"color":"#262626"},"encoding":{"x":{"datum":1984.8,"type":"quantitative","axis":null},"y":{"datum":35.19,"type":"quantitative","axis":null},"text":{"field":"t"}}}]},
    {"width":164,"height":192,"resolve":{"axis":{"x":"independent","y":"independent"}},"layer":[
      {"data":{"name":"pts"},"transform":[{"filter":"datum.p=='h'"}],"mark":{"type":"errorbar","color":"#ff2020","opacity":0.85,"ticks":{"size":12},"clip":true},"encoding":{"x":{"field":"year","type":"quantitative","scale":{"domain":[1981,2020],"nice":false,"zero":false},"axis":null},"y":{"field":"s","type":"quantitative","scale":{"domain":[34,35.35],"nice":false,"zero":false},"axis":null},"yError":{"field":"e"}}},
      {"data":{"name":"pts"},"transform":[{"filter":"datum.p=='h'"}],"mark":{"type":"circle","color":"red","size":28,"opacity":1,"clip":true},"encoding":{"x":{"field":"year","type":"quantitative","axis":{"orient":"bottom","labels":false,"title":null}},"y":{"field":"s","type":"quantitative","axis":{"orient":"left","labels":false,"title":null}}}},
      {"data":{"name":"trend"},"transform":[{"filter":"datum.p=='h'"}],"mark":{"type":"line","color":"black","strokeWidth":1.2,"clip":true},"encoding":{"x":{"field":"year","type":"quantitative","axis":{"orient":"top","labels":false,"title":null}},"y":{"field":"s","type":"quantitative","axis":{"orient":"right","labels":false,"title":null}}}},
      {"data":{"values":[{"t":"(h)"}]},"mark":{"type":"text","align":"left","fontSize":22,"color":"#262626"},"encoding":{"x":{"datum":1984.8,"type":"quantitative","axis":null},"y":{"datum":35.19,"type":"quantitative","axis":null},"text":{"field":"t"}}}]},
    {"width":164,"height":192,"data":{"values":[]},"mark":{"type":"point","opacity":0},"encoding":{}},
    {"width":164,"height":192,"resolve":{"axis":{"x":"independent","y":"independent"}},"layer":[
      {"data":{"name":"pts"},"transform":[{"filter":"datum.p=='o'"}],"mark":{"type":"errorbar","color":"#ff2020","opacity":0.85,"ticks":{"size":12},"clip":true},"encoding":{"x":{"field":"year","type":"quantitative","scale":{"domain":[1981,2020],"nice":false,"zero":false},"axis":null},"y":{"field":"s","type":"quantitative","scale":{"domain":[34,35.35],"nice":false,"zero":false},"axis":null},"yError":{"field":"e"}}},
      {"data":{"name":"pts"},"transform":[{"filter":"datum.p=='o'"}],"mark":{"type":"circle","color":"red","size":28,"opacity":1,"clip":true},"encoding":{"x":{"field":"year","type":"quantitative","axis":{"orient":"bottom","labels":false,"title":null}},"y":{"field":"s","type":"quantitative","axis":{"orient":"left","labels":false,"title":null}}}},
      {"data":{"name":"trend"},"transform":[{"filter":"datum.p=='o'"}],"mark":{"type":"line","color":"black","strokeWidth":1.2,"clip":true},"encoding":{"x":{"field":"year","type":"quantitative","axis":{"orient":"top","labels":false,"title":null}},"y":{"field":"s","type":"quantitative","axis":{"orient":"right","labels":false,"title":null}}}},
      {"data":{"values":[{"t":"(o)"}]},"mark":{"type":"text","align":"left","fontSize":22,"color":"#262626"},"encoding":{"x":{"datum":1984.8,"type":"quantitative","axis":null},"y":{"datum":35.19,"type":"quantitative","axis":null},"text":{"field":"t"}}}]},
    {"width":164,"height":192,"resolve":{"axis":{"x":"independent","y":"independent"}},"layer":[
      {"data":{"name":"pts"},"transform":[{"filter":"datum.p=='t'"}],"mark":{"type":"errorbar","color":"#ff2020","opacity":0.85,"ticks":{"size":12},"clip":true},"encoding":{"x":{"field":"year","type":"quantitative","scale":{"domain":[1981,2020],"nice":false,"zero":false},"axis":null},"y":{"field":"s","type":"quantitative","scale":{"domain":[34,35.35],"nice":false,"zero":false},"axis":null},"yError":{"field":"e"}}},
      {"data":{"name":"pts"},"transform":[{"filter":"datum.p=='t'"}],"mark":{"type":"circle","color":"red","size":28,"opacity":1,"clip":true},"encoding":{"x":{"field":"year","type":"quantitative","axis":{"orient":"bottom","labels":false,"title":null}},"y":{"field":"s","type":"quantitative","axis":{"orient":"left","labels":false,"title":null}}}},
      {"data":{"name":"trend"},"transform":[{"filter":"datum.p=='t'"}],"mark":{"type":"line","color":"black","strokeWidth":1.2,"clip":true},"encoding":{"x":{"field":"year","type":"quantitative","axis":{"orient":"top","labels":false,"title":null}},"y":{"field":"s","type":"quantitative","axis":{"orient":"right","labels":false,"title":null}}}},
      {"data":{"values":[{"t":"(t)"}]},"mark":{"type":"text","align":"left","fontSize":22,"color":"#262626"},"encoding":{"x":{"datum":1984.8,"type":"quantitative","axis":null},"y":{"datum":35.19,"type":"quantitative","axis":null},"text":{"field":"t"}}}]},
    {"width":164,"height":192,"resolve":{"axis":{"x":"independent","y":"independent"}},"layer":[
      {"data":{"name":"pts"},"transform":[{"filter":"datum.p=='y'"}],"mark":{"type":"errorbar","color":"#ff2020","opacity":0.85,"ticks":{"size":12},"clip":true},"encoding":{"x":{"field":"year","type":"quantitative","scale":{"domain":[1981,2020],"nice":false,"zero":false},"axis":null},"y":{"field":"s","type":"quantitative","scale":{"domain":[34,35.35],"nice":false,"zero":false},"axis":null},"yError":{"field":"e"}}},
      {"data":{"name":"pts"},"transform":[{"filter":"datum.p=='y'"}],"mark":{"type":"circle","color":"red","size":28,"opacity":1,"clip":true},"encoding":{"x":{"field":"year","type":"quantitative","axis":{"orient":"bottom","labels":false,"title":null}},"y":{"field":"s","type":"quantitative","axis":{"orient":"left","labels":false,"title":null}}}},
      {"data":{"name":"trend"},"transform":[{"filter":"datum.p=='y'"}],"mark":{"type":"line","color":"black","strokeWidth":1.2,"clip":true},"encoding":{"x":{"field":"year","type":"quantitative","axis":{"orient":"top","labels":false,"title":null}},"y":{"field":"s","type":"quantitative","axis":{"orient":"right","labels":false,"title":"500-1000m"}}}},
      {"data":{"values":[{"t":"(y)"}]},"mark":{"type":"text","align":"left","fontSize":22,"color":"#262626"},"encoding":{"x":{"datum":1984.8,"type":"quantitative","axis":null},"y":{"datum":35.19,"type":"quantitative","axis":null},"text":{"field":"t"}}}]},

    {"width":164,"height":192,"resolve":{"axis":{"x":"independent","y":"independent"}},"layer":[
      {"data":{"name":"pts"},"transform":[{"filter":"datum.p=='d'"}],"mark":{"type":"errorbar","color":"#ff2020","opacity":0.85,"ticks":{"size":12},"clip":true},"encoding":{"x":{"field":"year","type":"quantitative","scale":{"domain":[1981,2020],"nice":false,"zero":false},"axis":null},"y":{"field":"s","type":"quantitative","scale":{"domain":[34,35.35],"nice":false,"zero":false},"axis":null},"yError":{"field":"e"}}},
      {"data":{"name":"pts"},"transform":[{"filter":"datum.p=='d'"}],"mark":{"type":"circle","color":"red","size":28,"opacity":1,"clip":true},"encoding":{"x":{"field":"year","type":"quantitative","axis":{"orient":"bottom","labels":false,"title":null}},"y":{"field":"s","type":"quantitative","axis":{"orient":"left","labels":true,"title":null}}}},
      {"data":{"name":"trend"},"transform":[{"filter":"datum.p=='d'"}],"mark":{"type":"line","color":"black","strokeWidth":1.2,"clip":true},"encoding":{"x":{"field":"year","type":"quantitative","axis":{"orient":"top","labels":false,"title":null}},"y":{"field":"s","type":"quantitative","axis":{"orient":"right","labels":false,"title":null}}}},
      {"data":{"values":[{"t":"(d)"}]},"mark":{"type":"text","align":"left","fontSize":22,"color":"#262626"},"encoding":{"x":{"datum":1984.8,"type":"quantitative","axis":null},"y":{"datum":35.19,"type":"quantitative","axis":null},"text":{"field":"t"}}}]},
    {"width":164,"height":192,"resolve":{"axis":{"x":"independent","y":"independent"}},"layer":[
      {"data":{"name":"pts"},"transform":[{"filter":"datum.p=='i'"}],"mark":{"type":"errorbar","color":"#ff2020","opacity":0.85,"ticks":{"size":12},"clip":true},"encoding":{"x":{"field":"year","type":"quantitative","scale":{"domain":[1981,2020],"nice":false,"zero":false},"axis":null},"y":{"field":"s","type":"quantitative","scale":{"domain":[34,35.35],"nice":false,"zero":false},"axis":null},"yError":{"field":"e"}}},
      {"data":{"name":"pts"},"transform":[{"filter":"datum.p=='i'"}],"mark":{"type":"circle","color":"red","size":28,"opacity":1,"clip":true},"encoding":{"x":{"field":"year","type":"quantitative","axis":{"orient":"bottom","labels":false,"title":null}},"y":{"field":"s","type":"quantitative","axis":{"orient":"left","labels":false,"title":null}}}},
      {"data":{"name":"trend"},"transform":[{"filter":"datum.p=='i'"}],"mark":{"type":"line","color":"black","strokeWidth":1.2,"clip":true},"encoding":{"x":{"field":"year","type":"quantitative","axis":{"orient":"top","labels":false,"title":null}},"y":{"field":"s","type":"quantitative","axis":{"orient":"right","labels":false,"title":null}}}},
      {"data":{"values":[{"t":"(i)"}]},"mark":{"type":"text","align":"left","fontSize":22,"color":"#262626"},"encoding":{"x":{"datum":1984.8,"type":"quantitative","axis":null},"y":{"datum":35.19,"type":"quantitative","axis":null},"text":{"field":"t"}}}]},
    {"width":164,"height":192,"data":{"values":[]},"mark":{"type":"point","opacity":0},"encoding":{}},
    {"width":164,"height":192,"resolve":{"axis":{"x":"independent","y":"independent"}},"layer":[
      {"data":{"name":"pts"},"transform":[{"filter":"datum.p=='p'"}],"mark":{"type":"errorbar","color":"#ff2020","opacity":0.85,"ticks":{"size":12},"clip":true},"encoding":{"x":{"field":"year","type":"quantitative","scale":{"domain":[1981,2020],"nice":false,"zero":false},"axis":null},"y":{"field":"s","type":"quantitative","scale":{"domain":[34,35.35],"nice":false,"zero":false},"axis":null},"yError":{"field":"e"}}},
      {"data":{"name":"pts"},"transform":[{"filter":"datum.p=='p'"}],"mark":{"type":"circle","color":"red","size":28,"opacity":1,"clip":true},"encoding":{"x":{"field":"year","type":"quantitative","axis":{"orient":"bottom","labels":false,"title":null}},"y":{"field":"s","type":"quantitative","axis":{"orient":"left","labels":false,"title":null}}}},
      {"data":{"name":"trend"},"transform":[{"filter":"datum.p=='p'"}],"mark":{"type":"line","color":"black","strokeWidth":1.2,"clip":true},"encoding":{"x":{"field":"year","type":"quantitative","axis":{"orient":"top","labels":false,"title":null}},"y":{"field":"s","type":"quantitative","axis":{"orient":"right","labels":false,"title":null}}}},
      {"data":{"values":[{"t":"(p)"}]},"mark":{"type":"text","align":"left","fontSize":22,"color":"#262626"},"encoding":{"x":{"datum":1984.8,"type":"quantitative","axis":null},"y":{"datum":35.19,"type":"quantitative","axis":null},"text":{"field":"t"}}}]},
    {"width":164,"height":192,"resolve":{"axis":{"x":"independent","y":"independent"}},"layer":[
      {"data":{"name":"pts"},"transform":[{"filter":"datum.p=='u'"}],"mark":{"type":"errorbar","color":"#ff2020","opacity":0.85,"ticks":{"size":12},"clip":true},"encoding":{"x":{"field":"year","type":"quantitative","scale":{"domain":[1981,2020],"nice":false,"zero":false},"axis":null},"y":{"field":"s","type":"quantitative","scale":{"domain":[34,35.35],"nice":false,"zero":false},"axis":null},"yError":{"field":"e"}}},
      {"data":{"name":"pts"},"transform":[{"filter":"datum.p=='u'"}],"mark":{"type":"circle","color":"red","size":28,"opacity":1,"clip":true},"encoding":{"x":{"field":"year","type":"quantitative","axis":{"orient":"bottom","labels":false,"title":null}},"y":{"field":"s","type":"quantitative","axis":{"orient":"left","labels":false,"title":null}}}},
      {"data":{"name":"trend"},"transform":[{"filter":"datum.p=='u'"}],"mark":{"type":"line","color":"black","strokeWidth":1.2,"clip":true},"encoding":{"x":{"field":"year","type":"quantitative","axis":{"orient":"top","labels":false,"title":null}},"y":{"field":"s","type":"quantitative","axis":{"orient":"right","labels":false,"title":null}}}},
      {"data":{"values":[{"t":"(u)"}]},"mark":{"type":"text","align":"left","fontSize":22,"color":"#262626"},"encoding":{"x":{"datum":1984.8,"type":"quantitative","axis":null},"y":{"datum":35.19,"type":"quantitative","axis":null},"text":{"field":"t"}}}]},
    {"width":164,"height":192,"resolve":{"axis":{"x":"independent","y":"independent"}},"layer":[
      {"data":{"name":"pts"},"transform":[{"filter":"datum.p=='z'"}],"mark":{"type":"errorbar","color":"#ff2020","opacity":0.85,"ticks":{"size":12},"clip":true},"encoding":{"x":{"field":"year","type":"quantitative","scale":{"domain":[1981,2020],"nice":false,"zero":false},"axis":null},"y":{"field":"s","type":"quantitative","scale":{"domain":[34,35.35],"nice":false,"zero":false},"axis":null},"yError":{"field":"e"}}},
      {"data":{"name":"pts"},"transform":[{"filter":"datum.p=='z'"}],"mark":{"type":"circle","color":"red","size":28,"opacity":1,"clip":true},"encoding":{"x":{"field":"year","type":"quantitative","axis":{"orient":"bottom","labels":true,"title":null}},"y":{"field":"s","type":"quantitative","axis":{"orient":"left","labels":false,"title":null}}}},
      {"data":{"name":"trend"},"transform":[{"filter":"datum.p=='z'"}],"mark":{"type":"line","color":"black","strokeWidth":1.2,"clip":true},"encoding":{"x":{"field":"year","type":"quantitative","axis":{"orient":"top","labels":false,"title":null}},"y":{"field":"s","type":"quantitative","axis":{"orient":"right","labels":false,"title":"1000-2000m"}}}},
      {"data":{"values":[{"t":"(z)"}]},"mark":{"type":"text","align":"left","fontSize":22,"color":"#262626"},"encoding":{"x":{"datum":1984.8,"type":"quantitative","axis":null},"y":{"datum":35.19,"type":"quantitative","axis":null},"text":{"field":"t"}}}]},

    {"width":164,"height":192,"resolve":{"axis":{"x":"independent","y":"independent"}},"layer":[
      {"data":{"name":"pts"},"transform":[{"filter":"datum.p=='e'"}],"mark":{"type":"errorbar","color":"#ff2020","opacity":0.85,"ticks":{"size":12},"clip":true},"encoding":{"x":{"field":"year","type":"quantitative","scale":{"domain":[1981,2020],"nice":false,"zero":false},"axis":null},"y":{"field":"s","type":"quantitative","scale":{"domain":[34,35.35],"nice":false,"zero":false},"axis":null},"yError":{"field":"e"}}},
      {"data":{"name":"pts"},"transform":[{"filter":"datum.p=='e'"}],"mark":{"type":"circle","color":"red","size":28,"opacity":1,"clip":true},"encoding":{"x":{"field":"year","type":"quantitative","axis":{"orient":"bottom","labels":true,"title":null}},"y":{"field":"s","type":"quantitative","axis":{"orient":"left","labels":true,"title":null}}}},
      {"data":{"name":"trend"},"transform":[{"filter":"datum.p=='e'"}],"mark":{"type":"line","color":"black","strokeWidth":1.2,"clip":true},"encoding":{"x":{"field":"year","type":"quantitative","axis":{"orient":"top","labels":false,"title":null}},"y":{"field":"s","type":"quantitative","axis":{"orient":"right","labels":false,"title":null}}}},
      {"data":{"values":[{"t":"(e)"}]},"mark":{"type":"text","align":"left","fontSize":22,"color":"#262626"},"encoding":{"x":{"datum":1984.8,"type":"quantitative","axis":null},"y":{"datum":35.19,"type":"quantitative","axis":null},"text":{"field":"t"}}}]},
    {"width":164,"height":192,"resolve":{"axis":{"x":"independent","y":"independent"}},"layer":[
      {"data":{"name":"pts"},"transform":[{"filter":"datum.p=='j'"}],"mark":{"type":"errorbar","color":"#ff2020","opacity":0.85,"ticks":{"size":12},"clip":true},"encoding":{"x":{"field":"year","type":"quantitative","scale":{"domain":[1981,2020],"nice":false,"zero":false},"axis":null},"y":{"field":"s","type":"quantitative","scale":{"domain":[34,35.35],"nice":false,"zero":false},"axis":null},"yError":{"field":"e"}}},
      {"data":{"name":"pts"},"transform":[{"filter":"datum.p=='j'"}],"mark":{"type":"circle","color":"red","size":28,"opacity":1,"clip":true},"encoding":{"x":{"field":"year","type":"quantitative","axis":{"orient":"bottom","labels":true,"title":null}},"y":{"field":"s","type":"quantitative","axis":{"orient":"left","labels":false,"title":null}}}},
      {"data":{"name":"trend"},"transform":[{"filter":"datum.p=='j'"}],"mark":{"type":"line","color":"black","strokeWidth":1.2,"clip":true},"encoding":{"x":{"field":"year","type":"quantitative","axis":{"orient":"top","labels":false,"title":null}},"y":{"field":"s","type":"quantitative","axis":{"orient":"right","labels":false,"title":null}}}},
      {"data":{"values":[{"t":"(j)"}]},"mark":{"type":"text","align":"left","fontSize":22,"color":"#262626"},"encoding":{"x":{"datum":1984.8,"type":"quantitative","axis":null},"y":{"datum":35.19,"type":"quantitative","axis":null},"text":{"field":"t"}}}]},
    {"width":164,"height":192,"data":{"values":[]},"mark":{"type":"point","opacity":0},"encoding":{}},
    {"width":164,"height":192,"resolve":{"axis":{"x":"independent","y":"independent"}},"layer":[
      {"data":{"name":"pts"},"transform":[{"filter":"datum.p=='q'"}],"mark":{"type":"errorbar","color":"#ff2020","opacity":0.85,"ticks":{"size":12},"clip":true},"encoding":{"x":{"field":"year","type":"quantitative","scale":{"domain":[1981,2020],"nice":false,"zero":false},"axis":null},"y":{"field":"s","type":"quantitative","scale":{"domain":[34,35.35],"nice":false,"zero":false},"axis":null},"yError":{"field":"e"}}},
      {"data":{"name":"pts"},"transform":[{"filter":"datum.p=='q'"}],"mark":{"type":"circle","color":"red","size":28,"opacity":1,"clip":true},"encoding":{"x":{"field":"year","type":"quantitative","axis":{"orient":"bottom","labels":true,"title":null}},"y":{"field":"s","type":"quantitative","axis":{"orient":"left","labels":false,"title":null}}}},
      {"data":{"name":"trend"},"transform":[{"filter":"datum.p=='q'"}],"mark":{"type":"line","color":"black","strokeWidth":1.2,"clip":true},"encoding":{"x":{"field":"year","type":"quantitative","axis":{"orient":"top","labels":false,"title":null}},"y":{"field":"s","type":"quantitative","axis":{"orient":"right","labels":false,"title":null}}}},
      {"data":{"values":[{"t":"(q)"}]},"mark":{"type":"text","align":"left","fontSize":22,"color":"#262626"},"encoding":{"x":{"datum":1984.8,"type":"quantitative","axis":null},"y":{"datum":35.19,"type":"quantitative","axis":null},"text":{"field":"t"}}}]},
    {"width":164,"height":192,"resolve":{"axis":{"x":"independent","y":"independent"}},"layer":[
      {"data":{"name":"pts"},"transform":[{"filter":"datum.p=='v'"}],"mark":{"type":"errorbar","color":"#ff2020","opacity":0.85,"ticks":{"size":12},"clip":true},"encoding":{"x":{"field":"year","type":"quantitative","scale":{"domain":[1981,2020],"nice":false,"zero":false},"axis":null},"y":{"field":"s","type":"quantitative","scale":{"domain":[34,35.35],"nice":false,"zero":false},"axis":null},"yError":{"field":"e"}}},
      {"data":{"name":"pts"},"transform":[{"filter":"datum.p=='v'"}],"mark":{"type":"circle","color":"red","size":28,"opacity":1,"clip":true},"encoding":{"x":{"field":"year","type":"quantitative","axis":{"orient":"bottom","labels":true,"title":null}},"y":{"field":"s","type":"quantitative","axis":{"orient":"left","labels":false,"title":null}}}},
      {"data":{"name":"trend"},"transform":[{"filter":"datum.p=='v'"}],"mark":{"type":"line","color":"black","strokeWidth":1.2,"clip":true},"encoding":{"x":{"field":"year","type":"quantitative","axis":{"orient":"top","labels":false,"title":null}},"y":{"field":"s","type":"quantitative","axis":{"orient":"right","labels":false,"title":"2000-4000m"}}}},
      {"data":{"values":[{"t":"(v)"}]},"mark":{"type":"text","align":"left","fontSize":22,"color":"#262626"},"encoding":{"x":{"datum":1984.8,"type":"quantitative","axis":null},"y":{"datum":35.19,"type":"quantitative","axis":null},"text":{"field":"t"}}}]}
  ],
  "config": {
    "font": "DejaVu Sans",
    "view": {"stroke": null},
    "axis": {"grid": false, "domainColor": "#555555", "domainWidth": 1.3, "tickColor": "#555555", "tickWidth": 1.1, "tickSize": -5, "labelColor": "#262626", "labelFontSize": 22, "labelFont": "DejaVu Sans", "titleFont": "DejaVu Sans", "titleColor": "#262626", "titleFontWeight": "normal"},
    "axisX": {"tickCount": 4, "labelPadding": 19, "labelOverlap": false, "labelFlush": false, "labelExpr": "datum.value == 1990 || datum.value == 2010 ? '' + datum.value : ''"},
    "axisY": {"tickCount": 3, "labelPadding": 14, "labelExpr": "'' + datum.value"},
    "axisTop": {"titleFontSize": 25, "titleFontWeight": "bold", "titlePadding": 6},
    "axisRight": {"titleFontSize": 22, "titlePadding": 6, "titleAngle": 270, "titleBaseline": "top"},
    "axisLeft": {"titleFontSize": 25, "titlePadding": 12}
  }
}
